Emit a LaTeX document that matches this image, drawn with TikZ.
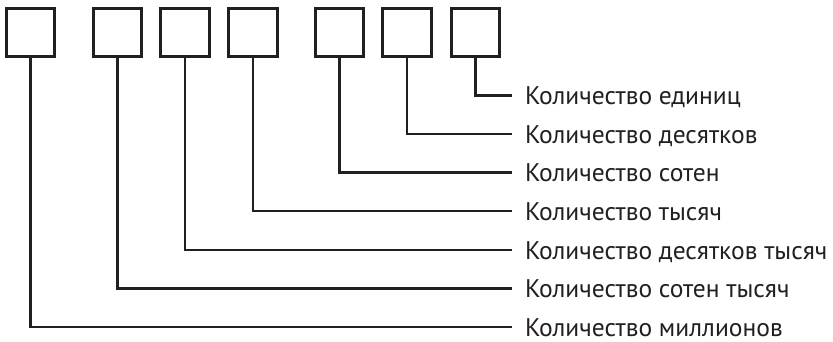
\documentclass[tikz,border=0pt]{standalone}
\usepackage{fontspec}
\setmainfont{PT Sans}
\definecolor{ink}{HTML}{231F20}
\begin{document}
\begin{tikzpicture}[x=1pt,y=-1pt,
  digit/.style={draw=ink,line width=2.8pt,minimum size=48.5pt,inner sep=0pt},
  lead/.style={draw=ink,line width=2.9pt},
  caption/.style={anchor=base west,inner sep=0pt,text=ink,font=\fontsize{25.5}{26}\selectfont}]
\useasboundingbox (0,0) rectangle (833,341);
% place-value boxes
\node[digit] (b1) at (30.5,32.5) {};
\node[digit] (b2) at (117.5,32.5) {};
\node[digit] (b3) at (185,32.5) {};
\node[digit] (b4) at (253,32.5) {};
\node[digit] (b5) at (339.5,32.5) {};
\node[digit] (b6) at (407,32.5) {};
\node[digit] (b7) at (475.5,32.5) {};
% captions, baselines set half a cap height below each leader line
\node[caption] (t7) at (525,104.5) {Количество единиц};
\node[caption] (t6) at (525,143) {Количество десятков};
\node[caption] (t5) at (525,181.5) {Количество сотен};
\node[caption] (t4) at (525,220) {Количество тысяч};
\node[caption] (t3) at (525,259) {Количество десятков тысяч};
\node[caption] (t2) at (525,297.5) {Количество сотен тысяч};
\node[caption] (t1) at (525,336) {Количество миллионов};
% leader ends
\coordinate (e7) at (512,95.5);
\coordinate (e6) at (512,134);
\coordinate (e5) at (512,172.5);
\coordinate (e4) at (512,211);
\coordinate (e3) at (512,250);
\coordinate (e2) at (512,288.5);
\coordinate (e1) at (512,327);
% leader lines
\foreach \i in {1,...,7}{
  \draw[lead] (b\i.south) |- (e\i);
}
\end{tikzpicture}
\end{document}
